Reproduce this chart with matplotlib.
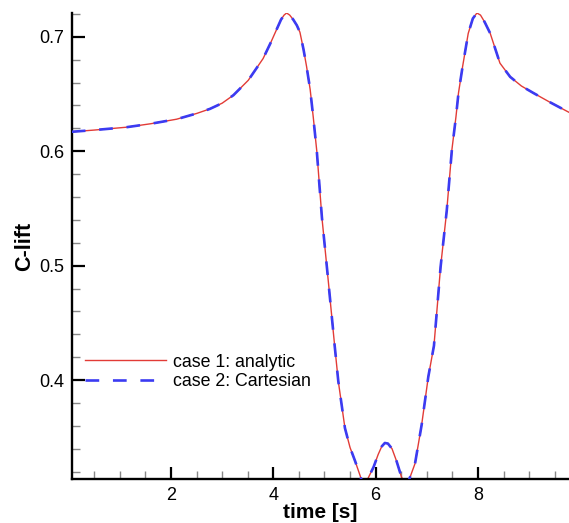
import matplotlib
matplotlib.use("Agg")
import matplotlib.pyplot as plt
from matplotlib.ticker import MultipleLocator

# ---- data ----
time = [0.06, 0.5, 1.13, 1.6, 2.11, 2.5, 2.76, 3.0, 3.22, 3.51, 3.8, 3.95, 4.03,
        4.15, 4.21, 4.26, 4.32, 4.39, 4.46, 4.52, 4.59, 4.65, 4.72, 4.78, 4.85,
        4.95, 5.08, 5.19, 5.27, 5.40, 5.50, 5.60, 5.70, 5.77, 5.85, 5.96, 6.05,
        6.12, 6.18, 6.24, 6.32, 6.41, 6.50, 6.59, 6.68, 6.77, 6.90, 7.03, 7.14, 7.27,
        7.39, 7.49, 7.57, 7.62, 7.70, 7.81, 7.90, 7.98, 8.05, 8.13, 8.24, 8.43,
        8.63, 8.85, 9.08, 9.40, 9.78]
c_lift_analytic = [0.617, 0.6185, 0.621, 0.624, 0.628, 0.633, 0.637, 0.642, 0.649,
                   0.662, 0.681, 0.695, 0.703, 0.715, 0.719, 0.7208, 0.719, 0.715,
                   0.710, 0.704, 0.689, 0.674, 0.654, 0.630, 0.600, 0.542, 0.484,
                   0.434, 0.399, 0.358, 0.341, 0.329, 0.316, 0.306, 0.314, 0.324,
                   0.335, 0.342, 0.345, 0.3445, 0.340, 0.329, 0.316, 0.306, 0.316, 0.327,
                   0.361, 0.403, 0.430, 0.499, 0.548, 0.601, 0.630, 0.651, 0.674,
                   0.703, 0.716, 0.7208, 0.719, 0.713, 0.703, 0.677, 0.665, 0.657,
                   0.651, 0.643, 0.634]
c_lift_cartesian = list(c_lift_analytic)

x_ticks = [2, 4, 6, 8]
y_ticks = [0.4, 0.5, 0.6, 0.7]

plt.rcParams['font.family'] = ['Liberation Sans', 'DejaVu Sans']

fig = plt.figure(figsize=(5.69, 5.23), dpi=100)
ax = fig.add_axes([0.1257, 0.0841, 0.8743, 0.891])

ax.plot(time, c_lift_analytic, color='#e23b36', lw=1.0, label='case 1: analytic', zorder=2)
ax.plot(time, c_lift_cartesian, color='#3b3bf2', lw=1.9, dashes=(5.2, 5.2),
        label='case 2: Cartesian', zorder=3)

ax.set_xlim(0.055, 9.78)
ax.set_ylim(0.3135, 0.7208)

ax.set_xticks(x_ticks)
ax.set_xticklabels([str(t) for t in x_ticks])
ax.set_yticks(y_ticks)
ax.set_yticklabels([f"{t:.1f}" for t in y_ticks])
ax.xaxis.set_minor_locator(MultipleLocator(0.5))
ax.yaxis.set_minor_locator(MultipleLocator(0.02))

for s in ['top', 'right']:
    ax.spines[s].set_visible(False)
for s in ['left', 'bottom']:
    ax.spines[s].set_linewidth(1.7)
    ax.spines[s].set_color('black')

ax.tick_params(which='major', direction='in', length=9, width=1.6, labelsize=13,
               colors='black')
ax.tick_params(axis='y', which='major', pad=5)
ax.tick_params(axis='x', which='major', pad=6)
ax.tick_params(which='minor', direction='in', length=5.5, width=1.0, color='#888888')

ax.set_xlabel('time [s]', fontsize=15, fontweight='bold', labelpad=-1)
ax.set_ylabel('C-lift', fontsize=15.5, fontweight='bold', labelpad=3)

ax.legend(loc='upper left', bbox_to_anchor=(0.027, 0.269), frameon=False, fontsize=12.8,
          handlelength=4.55, handletextpad=0.4, labelspacing=0.15, borderaxespad=0.0,
          borderpad=0.0)

fig.savefig('out.png', dpi=100)
